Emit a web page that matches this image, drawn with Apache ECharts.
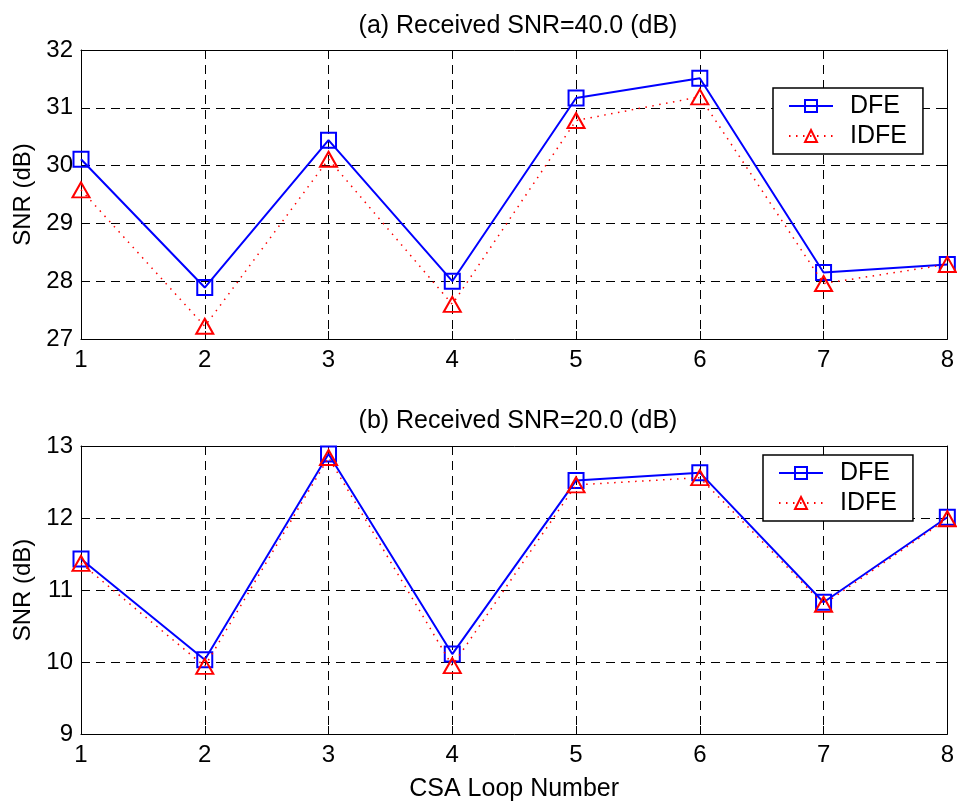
<!DOCTYPE html>
<html>
<head>
<meta charset="utf-8">
<script src="https://cdn.jsdelivr.net/npm/echarts@6/dist/echarts.min.js"></script>
<style>
  html, body { margin: 0; padding: 0; background: #fff; }
  #main { width: 957px; height: 807px; }
</style>
</head>
<body>
<div id="main"></div>
<script>
// loop numbers on the x axis
var loops = [1, 2, 3, 4, 5, 6, 7, 8]
// (a) received SNR = 40 dB
var dfeA = [30.11, 27.89, 30.44, 28.0, 31.17, 31.51, 28.15, 28.29]
var idfeA = [29.58, 27.22, 30.11, 27.6, 30.78, 31.19, 27.96, 28.29]
// (b) received SNR = 20 dB
var dfeB = [11.43, 10.03, 12.89, 10.11, 12.52, 12.63, 10.83, 12.01]
var idfeB = [11.37, 9.94, 12.84, 9.95, 12.46, 12.56, 10.80, 11.99]

var font = '"Liberation Sans", Arial, Helvetica, sans-serif'
var fs = 24

function pairs(vals) {
    return loops.map(function (x, i) { return [x, vals[i]] })
}

function xAx(gi, showLabel, pos) {
    return {
        type: 'value', gridIndex: gi, min: 1, max: 8, interval: 1,
        position: pos,
        axisLine: {show: true, lineStyle: {color: '#000', width: 1}},
        axisTick: {show: true, inside: true, length: 8, lineStyle: {color: '#000'}},
        axisLabel: {show: showLabel, color: '#000', fontSize: fs, fontFamily: font, margin: 9},
        splitLine: {show: showLabel, lineStyle: {color: '#000', type: [9, 6], width: 1}}
    }
}

function yAx(gi, min, max, showLabel, pos) {
    return {
        type: 'value', gridIndex: gi, min: min, max: max, interval: 1,
        position: pos,
        name: showLabel ? 'SNR (dB)' : '',
        nameLocation: 'middle', nameGap: 46,
        nameTextStyle: {color: '#000', fontSize: fs, fontFamily: font},
        axisLine: {show: true, lineStyle: {color: '#000', width: 1}},
        axisTick: {show: true, inside: true, length: 8, lineStyle: {color: '#000'}},
        axisLabel: {show: showLabel, color: '#000', fontSize: fs, fontFamily: font, margin: 8},
        splitLine: {show: showLabel, lineStyle: {color: '#000', type: [9, 6], width: 1}}
    }
}

function dfe(vals, gi) {
    return {
        name: 'DFE', type: 'line', xAxisIndex: gi * 2, yAxisIndex: gi * 2,
        data: pairs(vals),
        symbol: 'rect', symbolSize: 15,
        itemStyle: {color: 'rgba(255,255,255,0)', borderColor: '#0000ff', borderWidth: 2},
        lineStyle: {color: '#0000ff', width: 2},
        z: 3
    }
}

function idfe(vals, gi) {
    return {
        name: 'IDFE', type: 'line', xAxisIndex: gi * 2, yAxisIndex: gi * 2,
        data: pairs(vals),
        symbol: 'triangle', symbolSize: [17, 15],
        itemStyle: {color: 'rgba(255,255,255,0)', borderColor: '#ff0000', borderWidth: 2},
        lineStyle: {color: '#ff0000', width: 1.5, type: [1.5, 5.5]},
        z: 4
    }
}

function legendAt(left, top) {
    return {
        orient: 'vertical', left: left, top: top,
        data: ['DFE', 'IDFE'],
        backgroundColor: '#fff',
        borderColor: '#000', borderWidth: 1.5,
        padding: [5, 16, 5, 15],
        itemWidth: 44, itemHeight: 15, itemGap: 4,
        textStyle: {color: '#000', fontSize: 25, fontFamily: font, lineHeight: 26, padding: [0, 0, 0, 12]}
    }
}

var chart = echarts.init(document.getElementById('main'), null, {renderer: 'canvas'})

var option = {
    animation: false,
    backgroundColor: '#fff',
    title: [
        {text: '(a) Received SNR=40.0 (dB)', left: 513, top: 9, textAlign: 'center',
         textStyle: {color: '#000', fontWeight: 'normal', fontSize: 25, fontFamily: font}},
        {text: '(b) Received SNR=20.0 (dB)', left: 513, top: 404, textAlign: 'center',
         textStyle: {color: '#000', fontWeight: 'normal', fontSize: 25, fontFamily: font}}
    ],
    grid: [
        {left: 81, right: 9, top: 50, height: 289},
        {left: 81, right: 9, top: 446, height: 288}
    ],
    xAxis: [
        xAx(0, true, 'bottom'), xAx(0, false, 'top'),
        Object.assign(xAx(1, true, 'bottom'), {
            name: 'CSA Loop Number', nameLocation: 'middle', nameGap: 43,
            nameTextStyle: {color: '#000', fontSize: 25, fontFamily: font}
        }),
        xAx(1, false, 'top')
    ],
    yAxis: [
        yAx(0, 27, 32, true, 'left'), yAx(0, 27, 32, false, 'right'),
        yAx(1, 9, 13, true, 'left'), yAx(1, 9, 13, false, 'right')
    ],
    legend: [legendAt(773, 88), legendAt(763, 455)],
    series: [dfe(dfeA, 0), idfe(idfeA, 0), dfe(dfeB, 1), idfe(idfeB, 1)]
}

chart.setOption(option)
</script>
</body>
</html>
